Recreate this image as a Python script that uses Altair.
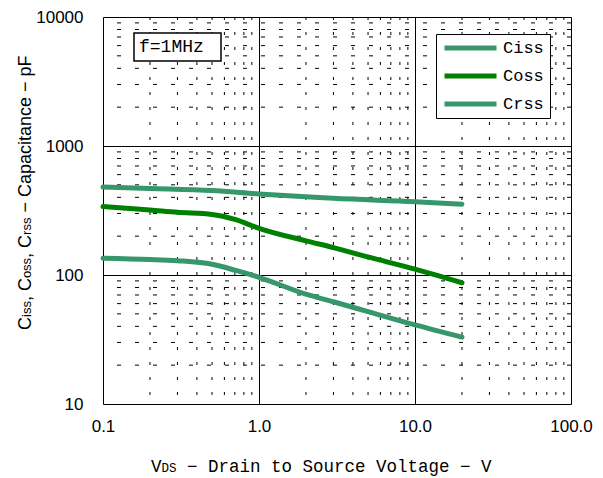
import altair as alt
import pandas as pd

# ---- data ----
ciss_v = [0.1, 0.2, 0.5, 1.0, 2.0, 3.0, 10.0, 20.0]
ciss_c = [480, 468, 451, 425, 404, 393, 370, 354]

coss_v = [0.1, 0.2, 0.3, 0.5, 0.7, 1.0, 2.0, 3.0, 5.0, 10.0, 20.0]
coss_c = [339, 319, 306, 295, 270, 230, 184, 163, 138, 111, 87]

crss_v = [0.1, 0.2, 0.3, 0.5, 0.7, 1.0, 2.0, 3.0, 5.0, 10.0, 20.0]
crss_c = [135, 132, 129, 121, 109, 96, 71, 62, 52, 41, 33]

series_names = ["Ciss", "Coss", "Crss"]
series_colors = ["#36986a", "#008000", "#36986a"]

x_major = [0.1, 1, 10, 100]
y_major = [10, 100, 1000, 10000]
x_minor = [m * d for d in (0.1, 1, 10) for m in range(2, 10)]
y_minor = [m * d for d in (10, 100, 1000) for m in range(2, 10)]

rows = []
for name, vs, cs in [("Ciss", ciss_v, ciss_c), ("Coss", coss_v, coss_c), ("Crss", crss_v, crss_c)]:
    for i, (v, c) in enumerate(zip(vs, cs)):
        rows.append({"x": v, "y": c, "series": name, "order": i})
df = pd.DataFrame(rows)

W, H = 468, 387
xscale = alt.Scale(type="log", domain=[0.1, 100], nice=False)
yscale = alt.Scale(type="log", domain=[10, 10000], nice=False)

MONO = "Liberation Mono"
SANS = "Liberation Sans"

x_axis = alt.Axis(
    values=x_major, format=".1f", title=None, grid=True, gridColor="black",
    gridWidth=1, gridOpacity=1, ticks=False, domain=False, labelFlush=False,
    labelFont=SANS, labelFontSize=17, labelColor="black", labelPadding=14,
)
y_axis = alt.Axis(
    values=y_major, format="d", title=None, grid=True, gridColor="black",
    gridWidth=1, gridOpacity=1, ticks=False, domain=False,
    labelFont=SANS, labelFontSize=17, labelColor="black", labelPadding=20,
)

vminor = alt.Chart(pd.DataFrame({"x": x_minor})).mark_rule(
    color="black", strokeWidth=1, strokeDash=[3, 12]
).encode(x=alt.X("x:Q", scale=xscale, axis=x_axis))

hminor = alt.Chart(pd.DataFrame({"y": y_minor})).mark_rule(
    color="black", strokeWidth=1, strokeDash=[4, 14]
).encode(y=alt.Y("y:Q", scale=yscale, axis=y_axis))

lines = alt.Chart(df).mark_line(strokeWidth=5, interpolate="monotone", strokeCap="round").encode(
    x=alt.X("x:Q", scale=xscale),
    y=alt.Y("y:Q", scale=yscale),
    detail="series:N",
    order="order:Q",
    color=alt.Color(
        "series:N",
        scale=alt.Scale(domain=series_names, range=series_colors),
        sort=series_names,
        legend=alt.Legend(
            orient="none", legendX=333, legendY=17, title=None,
            symbolType="stroke", symbolSize=2704, symbolStrokeWidth=5,
            labelFont=MONO, labelFontSize=17, labelColor="black", labelOffset=4,
            strokeColor="black", fillColor="white", padding=6,
            rowPadding=11, clipHeight=16, labelLimit=200,
        ),
    ),
)

one = pd.DataFrame({"a": [0]})

fbox = alt.Chart(one).mark_rect(fill="white", stroke="black", strokeWidth=1.5).encode(
    x=alt.value(31), x2=alt.value(118), y=alt.value(16), y2=alt.value(44)
)
ftext = alt.Chart(one).mark_text(
    text="f=1MHz", font=MONO, fontSize=18, align="left", baseline="middle", color="black"
).encode(x=alt.value(36), y=alt.value(30))

# ---- x title with subscript (leading spaces become offsets) ----
xt_big, xt_small = 17.5, 12.5
xt_x0, xt_y = 48, 455
xt_parts = [("V", xt_big), ("DS", xt_small), (" − Drain to Source Voltage − V", xt_big)]
xtitle_layers = []
pos = xt_x0
for txt, fs in xt_parts:
    lead = len(txt) - len(txt.lstrip(" "))
    xtitle_layers.append(
        alt.Chart(one).mark_text(text=txt.lstrip(" "), font=MONO, fontSize=fs, align="left",
                                 baseline="alphabetic", color="black")
        .encode(x=alt.value(pos + 0.6 * fs * lead), y=alt.value(xt_y))
    )
    pos += 0.6 * fs * len(txt)

# ---- y title with subscripts ----
AW = {"C": .722, "i": .222, "s": .5, "o": .556, "r": .333, ",": .278, " ": .278,
      "−": .584, "a": .556, "p": .556, "c": .5, "t": .278, "n": .556, "e": .556, "F": .611}
yt_big, yt_small = 18, 13
yt_x, yt_y0 = -72, 313
yt_parts = [("C", yt_big), ("iss", yt_small), (", C", yt_big), ("oss", yt_small),
            (", C", yt_big), ("rss", yt_small), (" − Capacitance − pF", yt_big)]
ytitle_layers = []
pos = yt_y0
for txt, fs in yt_parts:
    lead = len(txt) - len(txt.lstrip(" "))
    ytitle_layers.append(
        alt.Chart(one).mark_text(text=txt.lstrip(" "), font=SANS, fontSize=fs, align="left",
                                 baseline="alphabetic", angle=270, color="black")
        .encode(x=alt.value(yt_x), y=alt.value(pos - AW[" "] * fs * lead))
    )
    pos -= sum(AW.get(ch, .556) for ch in txt) * fs

chart = alt.layer(
    vminor, hminor, lines, fbox, ftext, *xtitle_layers, *ytitle_layers
).properties(
    width=W, height=H,
    autosize=alt.AutoSizeParams(type="none"),
    padding={"left": 103, "top": 17, "right": 32, "bottom": 74},
).configure_view(
    stroke="#222", strokeWidth=2
).configure(background="white")

chart.save("out.html", embed_options={"renderer": "svg", "actions": False})
